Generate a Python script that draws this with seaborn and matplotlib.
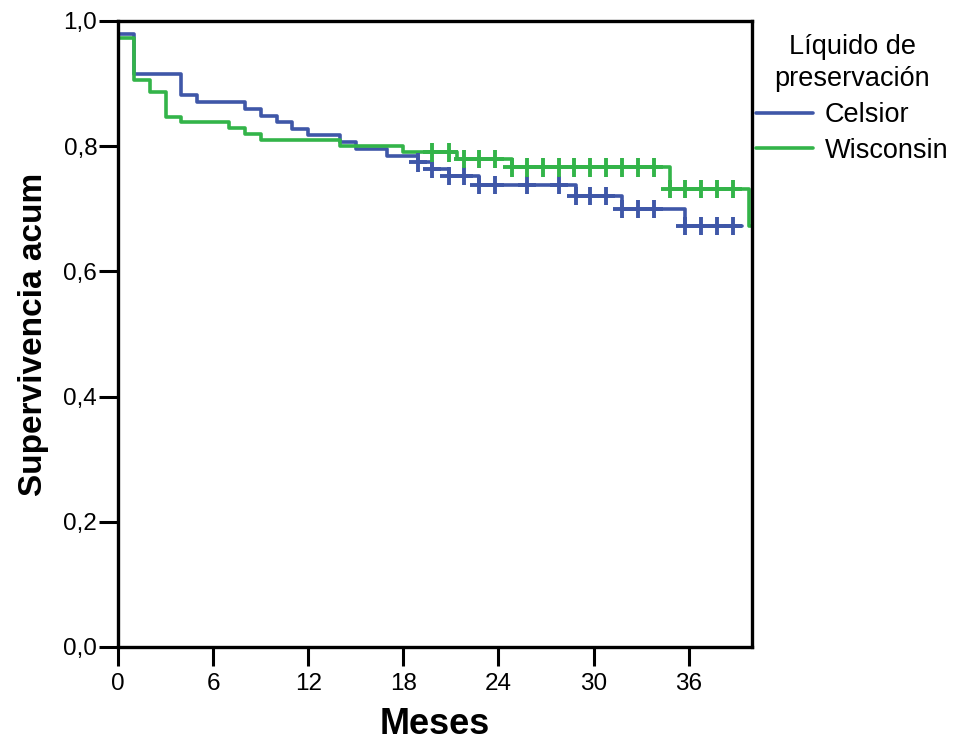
import numpy as np
import pandas as pd
import matplotlib
matplotlib.use("Agg")
import matplotlib.pyplot as plt
import seaborn as sns

# ---- data ----
groups = ["Celsior", "Wisconsin"]
celsior_t = [0, 1, 4, 5, 8, 9, 10, 11, 12, 14, 15, 17, 18.9, 19.8, 20.9, 22.75, 28.9, 31.8, 35.8, 39.4]
celsior_s = [0.980, 0.915, 0.882, 0.871, 0.860, 0.849, 0.838, 0.827, 0.818, 0.806, 0.795, 0.785,
             0.774, 0.763, 0.752, 0.738, 0.721, 0.700, 0.672, 0.672]
wisconsin_t = [0, 1, 2, 3, 4, 7, 8, 9, 14, 18, 21.4, 24.85, 34.8, 39.8, 40]
wisconsin_s = [0.973, 0.906, 0.887, 0.847, 0.838, 0.829, 0.819, 0.810, 0.800, 0.790,
               0.779, 0.766, 0.732, 0.672, 0.672]
celsior_cens = [18.9, 19.8, 20.9, 21.8, 22.75, 23.8, 25.8, 27.8, 28.9, 29.8, 30.8, 31.8,
                32.8, 33.8, 35.8, 36.8, 37.8, 38.8]
wisconsin_cens = [19.8, 20.9, 21.8, 22.75, 23.8, 24.85, 25.8, 26.8, 27.8, 28.8, 29.8, 30.8,
                  31.8, 32.8, 33.8, 34.8, 35.8, 36.8, 37.8, 38.8]
x_ticks = [0, 6, 12, 18, 24, 30, 36]
y_ticks = [0.0, 0.2, 0.4, 0.6, 0.8, 1.0]
y_ticklabels = ["0,0", "0,2", "0,4", "0,6", "0,8", "1,0"]
colors = {"Celsior": "#3F57A8", "Wisconsin": "#33B449"}

# ---- tables ----
curve = pd.concat([
    pd.DataFrame({"Meses": celsior_t, "Surv": celsior_s, "grupo": "Celsior"}),
    pd.DataFrame({"Meses": wisconsin_t, "Surv": wisconsin_s, "grupo": "Wisconsin"}),
], ignore_index=True)

def surv_at(times, surv, t):
    idx = np.searchsorted(np.asarray(times), t, side="right") - 1
    return np.asarray(surv)[idx]

cens = pd.concat([
    pd.DataFrame({"Meses": celsior_cens,
                  "Surv": [surv_at(celsior_t, celsior_s, t) for t in celsior_cens],
                  "grupo": "Celsior"}),
    pd.DataFrame({"Meses": wisconsin_cens,
                  "Surv": [surv_at(wisconsin_t, wisconsin_s, t) for t in wisconsin_cens],
                  "grupo": "Wisconsin"}),
], ignore_index=True)

sns.set_style("white")
plt.rcParams["font.family"] = ["Liberation Sans", "DejaVu Sans"]
plt.rcParams["text.color"] = "black"
plt.rcParams["axes.labelcolor"] = "black"

fig = plt.figure(figsize=(9.54, 7.42), dpi=100)
ax = fig.add_axes([118 / 954, 1 - 647 / 742, (752 - 118) / 954, (647 - 21) / 742])

sns.lineplot(data=curve, x="Meses", y="Surv", hue="grupo", hue_order=groups,
             palette=colors, drawstyle="steps-post", estimator=None, sort=False,
             linewidth=2.6, ax=ax)
sns.scatterplot(data=cens, x="Meses", y="Surv", hue="grupo", hue_order=groups,
                palette=colors, marker="+", s=170, linewidth=2.8, legend=False, ax=ax,
                zorder=3)

ax.set_xlim(0, 40)
ax.set_ylim(0, 1.0)
ax.set_xticks(x_ticks)
ax.set_xticklabels([str(v) for v in x_ticks])
ax.set_yticks(y_ticks)
ax.set_yticklabels(y_ticklabels)
ax.tick_params(axis="both", direction="out", length=14, width=2.2, labelsize=17.5,
               colors="black", bottom=True, left=True)
ax.tick_params(axis="y", pad=1)
ax.tick_params(axis="x", pad=5)
for sp in ax.spines.values():
    sp.set_visible(True)
    sp.set_color("black")
    sp.set_linewidth(2.4)

ax.set_xlabel("Meses", fontsize=26, fontweight="bold", labelpad=8, color="black")
ax.set_ylabel("Supervivencia acum", fontsize=24, fontweight="bold", labelpad=10, color="black")

handles, labels = ax.get_legend_handles_labels()
leg = ax.legend(handles, labels, title="Líquido de\npreservación", loc="upper left",
                bbox_to_anchor=(1.0, 0.985), frameon=False, fontsize=19.5,
                title_fontsize=19.5, handlelength=2.1, handletextpad=0.45,
                borderaxespad=0.0, borderpad=0.15, labelspacing=0.36)
leg._legend_box.align = "center"
title = leg.get_title()
title.set_multialignment("center")
title.set_linespacing(1.3)
title.set_color("black")
for t in leg.get_texts():
    t.set_color("black")

fig.savefig("out.png", dpi=100)
